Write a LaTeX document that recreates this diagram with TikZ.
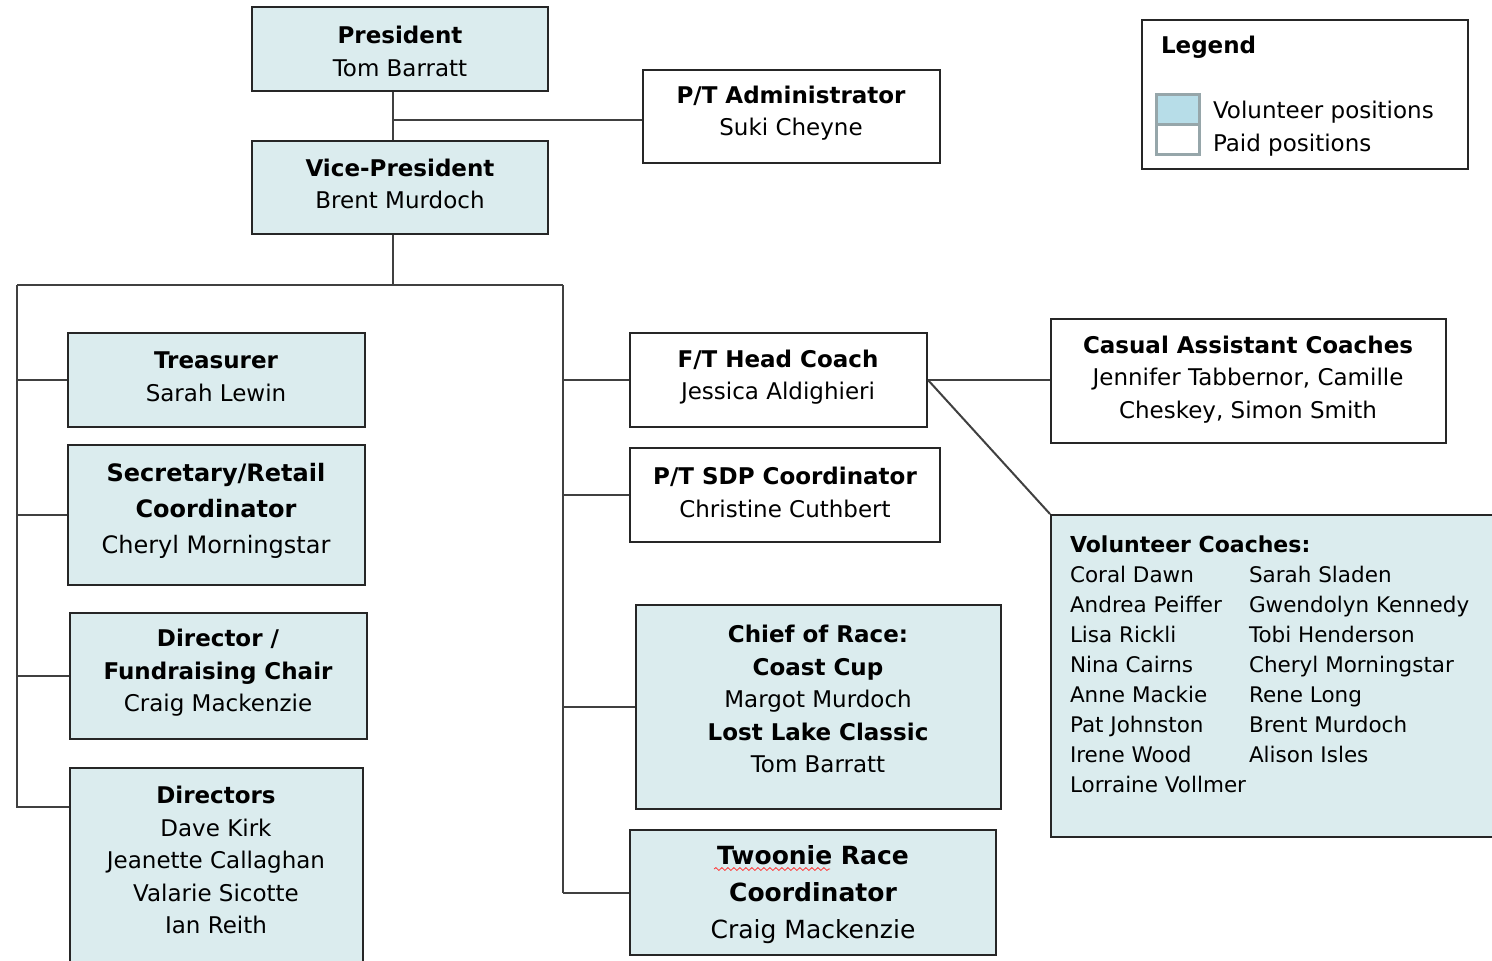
\documentclass[tikz,border=0pt]{standalone}
\usepackage{fontspec}
\setmainfont{DejaVu Sans}
\usetikzlibrary{fit,calc,decorations.pathmorphing}
\definecolor{volblue}{RGB}{219,236,238}
\definecolor{legblue}{RGB}{183,221,232}
\definecolor{leggray}{RGB}{150,166,170}
\definecolor{linegray}{RGB}{64,64,64}
\begin{document}
\begin{tikzpicture}[x=0.5pt, y=-0.5pt, line width=1pt,
  box/.style={draw=black!85, inner sep=0pt},
  vol/.style={box, fill=volblue},
  paid/.style={box, fill=white},
  txt/.style={inner sep=0pt, align=center, font=\fontsize{11.5}{16.25}\selectfont},
  swatch/.style={draw=leggray, line width=1.5pt, inner sep=0pt},
  plain/.style={inner sep=0pt, anchor=west, font=\fontsize{11.5}{16.25}\selectfont},
  link/.style={draw=linegray}]
\useasboundingbox (0,0) rectangle (1492,960);
%
% top of the chart
\node[vol, fit={(252,7) (548,91)}] (pres) {};
\node[txt] (presT) at (400,51.5) {\textbf{President}\\Tom Barratt};
\node[vol, fit={(252,141) (548,234)}] (vp) {};
\node[txt] (vpT) at (400,184) {\textbf{Vice-President}\\Brent Murdoch};
\node[paid, fit={(643,70) (940,163)}] (ptadmin) {};
\node[txt] (ptadminT) at (791,113) {\textbf{P/T Administrator}\\Suki Cheyne};
%
% legend
\node[draw=black!85, inner sep=0pt, fit={(1142,20) (1468,169)}] (legend) {};
\node[plain, font=\fontsize{11.5}{16.25}\selectfont\bfseries] (legtitle) at (1160,47) {Legend};
\node[swatch, fill=legblue, fit={(1156,94) (1199,124)}] (swvol) {};
\node[swatch, fill=white, fit={(1156,124) (1199,154)}] (swpaid) {};
\node[plain] (legvol) at (1212,112) {Volunteer positions};
\node[plain] (legpaid) at (1212,145) {Paid positions};
%
% left column
\node[vol, fit={(68,333) (365,427)}] (treas) {};
\node[txt] (treasT) at (216,377) {\textbf{Treasurer}\\Sarah Lewin};
\node[vol, fit={(68,445) (365,585)}] (sec) {};
\node[txt, font=\fontsize{12}{18}\selectfont] (secT) at (216,510.5)
  {\textbf{Secretary/Retail}\\\textbf{Coordinator}\\Cheryl Morningstar};
\node[vol, fit={(70,613) (367,739)}] (dirfund) {};
\node[txt] (dirfundT) at (218,673)
  {\textbf{Director /}\\\textbf{Fundraising Chair}\\Craig Mackenzie};
\node[vol, fit={(70,768) (363,966)}] (dirs) {};
\node[txt] (dirsT) at (216,860)
  {\textbf{Directors}\\Dave Kirk\\Jeanette Callaghan\\Valarie Sicotte\\Ian Reith};
%
% middle column
\node[paid, fit={(630,333) (927,427)}] (hcoach) {};
\node[txt] (hcoachT) at (778,377) {\textbf{F/T Head Coach}\\Jessica Aldighieri};
\node[paid, fit={(630,448) (940,542)}] (sdp) {};
\node[txt] (sdpT) at (785,492.5) {\textbf{P/T SDP Coordinator}\\Christine Cuthbert};
\node[vol, fit={(636,605) (1001,809)}] (chief) {};
\node[txt] (chiefT) at (818,699)
  {\textbf{Chief of Race:}\\\textbf{Coast Cup}\\Margot Murdoch\\\textbf{Lost Lake Classic}\\Tom Barratt};
\node[vol, fit={(630,830) (996,955)}] (twoonie) {};
\node[txt, font=\fontsize{12.5}{18.5}\selectfont] (twoonieT) at (813,895)
  {\textbf{Twoonie Race}\\\textbf{Coordinator}\\Craig Mackenzie};
\draw[red!80, line width=0.4pt, decorate, decoration={snake, amplitude=0.7pt, segment length=3pt}]
  (714,869) -- (830,869);
%
% coaches
\node[paid, fit={(1051,319) (1446,443)}] (casual) {};
\node[txt] (casualT) at (1248,379.5)
  {\textbf{Casual Assistant Coaches}\\Jennifer Tabbernor, Camille\\Cheskey, Simon Smith};
\node[vol, fit={(1051,515) (1496,837)}] (volc) {};
\node[inner sep=0pt, anchor=north west, font=\fontsize{10.75}{15}\selectfont] (vclist) at (1069,530)
  {\begin{tabular}{@{}p{89.5pt}@{}l@{}}
  \multicolumn{2}{@{}l@{}}{\fontsize{11}{15}\selectfont\bfseries Volunteer Coaches:}\\
  Coral Dawn & Sarah Sladen\\
  Andrea Peiffer & Gwendolyn Kennedy\\
  Lisa Rickli & Tobi Henderson\\
  Nina Cairns & Cheryl Morningstar\\
  Anne Mackie & Rene Long\\
  Pat Johnston & Brent Murdoch\\
  Irene Wood & Alison Isles\\
  Lorraine Vollmer &
  \end{tabular}};
%
% junctions
\coordinate (j1) at (393,120);
\coordinate (j2) at (393,285);
\coordinate (lbus) at (17,285);
\coordinate (rbus) at (563,285);
\coordinate (dirsin) at ($(dirs.north west)+(0,40)$);
%
\draw[link] (pres.south -| j1) -- (vp.north -| j1);
\draw[link] (j1) -- (j1 -| ptadmin.west);
\draw[link] (vp.south -| j2) -- (j2);
\draw[link] (lbus) -- (rbus);
\draw[link] (lbus) -- (lbus |- dirsin) -- (dirsin);
\foreach \n in {treas,sec,dirfund}
  \draw[link] (lbus |- \n.west) -- (\n.west);
\draw[link] (rbus) -- (rbus |- twoonie.west);
\foreach \n in {hcoach,sdp,chief,twoonie}
  \draw[link] (rbus |- \n.west) -- (\n.west);
\draw[link] (hcoach.east) -- (casual.west |- hcoach.east);
\draw[link] (hcoach.east) -- (volc.north west);
%
\end{tikzpicture}
\end{document}
